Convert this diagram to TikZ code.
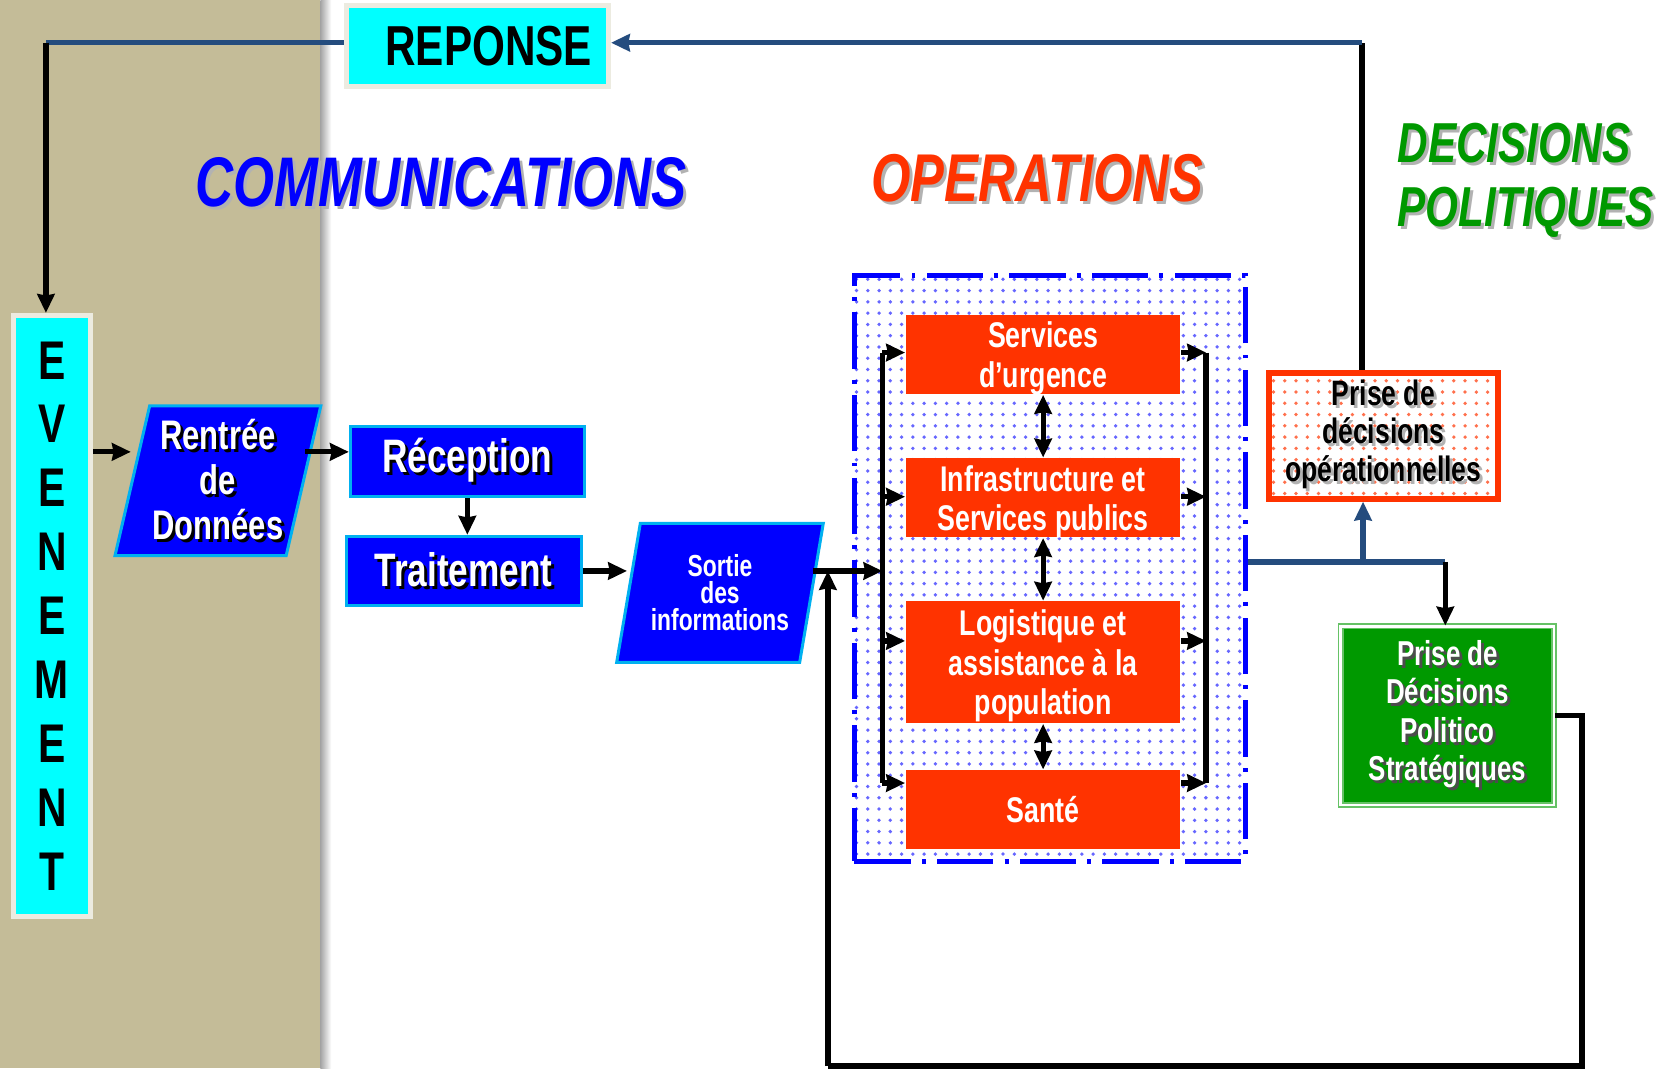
\documentclass[tikz,border=0pt]{standalone}
\usepackage{fontspec}
\newfontfamily\nar{Liberation Sans}[FakeStretch=0.75]
\usepackage{tikz}
\usetikzlibrary{patterns,shapes.geometric,arrows.meta}
\definecolor{tan1}{RGB}{196,188,152}
\definecolor{cyan1}{RGB}{0,255,255}
\definecolor{frame1}{RGB}{236,235,224}
\definecolor{blue1}{RGB}{0,0,255}
\definecolor{sky1}{RGB}{0,176,240}
\definecolor{orange1}{RGB}{255,51,0}
\definecolor{green1}{RGB}{0,153,0}
\definecolor{dblue}{RGB}{36,76,126}
% text with a drop shadow
\newcommand\shd[2]{\leavevmode\rlap{\kern0.8pt\raisebox{-0.8pt}{\color{#1}#2}}#2}

\begin{document}
\begin{tikzpicture}[x=0.01cm, y=-0.01cm,
	wire/.style={line width=1.4pt},
	arr/.style={wire, -{Stealth[length=5pt, width=4.6pt, inset=0.4pt]}},
	arrs/.style={wire, {Stealth[length=5pt, width=4.6pt, inset=0.4pt]}-{Stealth[length=5pt, width=4.6pt, inset=0.4pt]}},
	dwire/.style={wire, draw=dblue},
	cyanbox/.style={rectangle, fill=cyan1, draw=frame1, line width=1.4pt, inner sep=0, align=center},
	bluebox/.style={rectangle, fill=blue1, draw=sky1, line width=0.8pt, text=white, inner sep=0, font=\nar\bfseries\fontsize{12.5}{14}\selectfont},
	slant/.style={trapezium, trapezium left angle=75, trapezium right angle=105, trapezium stretches=true, fill=blue1, draw=sky1, line width=0.8pt, text=white, inner sep=0, align=center},
	opbox/.style={rectangle, fill=orange1, text=white, inner sep=0, minimum width=2.57cm, align=center, text depth=0pt, font=\nar\bfseries\fontsize{9.5}{10.5}\selectfont},
	title/.style={font=\nar\bfseries\itshape\fontsize{18.7}{17}\selectfont}]
	% Background:
	\fill[white] (0,0) rectangle (1568,1000);
	\fill[tan1] (0,0) rectangle (300,1000);
	\shade[left color=black!35, right color=white] (300,0) rectangle (310,1000);
	\useasboundingbox (0,0) rectangle (1568,1000);

	% Titles:
	\node[title, text=blue1] (T1) at (413,172) {\shd{black!30}{COMMUNICATIONS}};
	\node[title, text=orange1, font=\nar\bfseries\itshape\fontsize{18}{17}\selectfont] (T2) at (971,168) {\shd{black!30}{OPERATIONS}};
	\node[title, text=green1, anchor=west, align=left, font=\nar\bfseries\itshape\fontsize{15}{17}\selectfont] (T3) at (1296,170) {\shd{black!30}{DECISIONS}\\\shd{black!30}{POLITIQUES}};

	% Nodes:
	\node[cyanbox, minimum width=2.45cm, minimum height=0.76cm, font=\nar\bfseries\fontsize{15}{17}\selectfont] (Rep) at (447,43) {\hspace{6pt}REPONSE};
	\node[cyanbox, minimum width=0.72cm, minimum height=5.62cm, font=\nar\bfseries\fontsize{14.5}{17}\selectfont] (Ev) at (48.5,576.5) {E\\V\\E\\N\\E\\M\\E\\N\\T};
	\node[slant, minimum width=1.93cm, minimum height=1.4cm, font=\nar\bfseries\fontsize{11}{12}\selectfont] (Par1) at (204,450) {\shd{black}{Rentrée}\\\shd{black}{de}\\\shd{black}{Données}};
	\node[bluebox, minimum width=2.19cm, minimum height=0.66cm] (Rec) at (437.5,432) {\shd{black}{Réception}};
	\node[bluebox, minimum width=2.2cm, minimum height=0.65cm] (Trt) at (434,534.5) {\shd{black}{Traitement}};
	\node[slant, minimum width=1.94cm, minimum height=1.3cm, font=\nar\bfseries\fontsize{8.1}{7.2}\selectfont] (Par2) at (674,555) {Sortie\\des\\informations};

	\node[draw=blue1, line width=1.3pt, dash pattern=on 15pt off 3pt on 1pt off 3pt, pattern=dots, pattern color=blue1!60, minimum width=3.66cm, minimum height=5.48cm] (Cont) at (983,532) {};
	\node[opbox, minimum height=0.74cm] (Op1) at (976.5,332) {Services\\d’urgence};
	\node[opbox, minimum height=0.74cm] (Op2) at (976.5,466) {Infrastructure et\\Services publics};
	\node[opbox, minimum height=1.14cm] (Op3) at (976.5,620) {Logistique et\\assistance à la\\population};
	\node[opbox, minimum height=0.74cm] (Op4) at (976.5,758) {Santé};

	\node[draw=orange1, line width=1.5pt, pattern=dots, pattern color=orange1!70, minimum width=2.14cm, minimum height=1.18cm, inner sep=0, align=center, font=\nar\bfseries\fontsize{9.4}{10.2}\selectfont] (Dec1) at (1295,408) {\shd{black!30}{Prise de}\\\shd{black!30}{décisions}\\\shd{black!30}{opérationnelles}};
	\node[fill=green1, draw=green1!60!white, double=white, double distance=0.6pt, line width=0.5pt, minimum width=2cm, minimum height=1.67cm, inner sep=0, text=white, align=center, font=\nar\bfseries\fontsize{9.2}{10.2}\selectfont] (Dec2) at (1355,670) {\shd{black!70}{Prise de}\\\shd{black!70}{Décisions}\\\shd{black!70}{Politico}\\\shd{black!70}{Stratégiques}};

	% Paths and wires:
	\coordinate (E1) at (43,40);
	\draw[dwire] (Rep.west |- E1) -- (E1);
	\draw[arr] (E1) -- (E1 |- Ev.north);
	\coordinate (A1) at (87,423);
	\draw[arr] (Ev.east |- A1) -- (A1 -| Par1.west);
	\draw[arr] (A1 -| Par1.east) -- (A1 -| Rec.west);
	\draw[arr] (Rec.south) -- (Rec.south |- Trt.north);
	\draw[arr] (Trt.east) -- (Trt.east -| Par2.west);

	\coordinate (L1) at (826,330);
	\coordinate (L2) at (826,465);
	\coordinate (L3) at (826,600);
	\coordinate (L4) at (826,733);
	\coordinate (R1) at (1129,330);
	\coordinate (R2) at (1129,465);
	\coordinate (R3) at (1129,600);
	\coordinate (R4) at (1129,733);
	\draw[arr] (Par2.east |- Trt.east) -- (L1 |- Trt.east);
	\draw[wire] (L1) -- (L4);
	\draw[wire] (R1) -- (R4);
	\draw[arr] (L1) -- (L1 -| Op1.west);
	\draw[arr] (L2) -- (L2 -| Op2.west);
	\draw[arr] (L3) -- (L3 -| Op3.west);
	\draw[arr] (L4) -- (L4 -| Op4.west);
	\draw[arr] (R1 -| Op1.east) -- (R1);
	\draw[arr] (R2 -| Op2.east) -- (R2);
	\draw[arr] (R3 -| Op3.east) -- (R3);
	\draw[arr] (R4 -| Op4.east) -- (R4);
	\draw[arrs] (Op1.south) -- (Op2.north);
	\draw[arrs] (Op2.south) -- (Op3.north);
	\draw[arrs] (Op3.south) -- (Op4.north);

	\coordinate (D1) at (1353,526);
	\coordinate (D2) at (1276,526);
	\coordinate (D3) at (1275,40);
	\draw[dwire] (D1 -| Cont.east) -- (D1);
	\draw[dwire, arr] (D2) -- (D2 |- Dec1.south);
	\draw[arr] (D1) -- (D1 |- Dec2.north);
	\draw[wire] (D3 |- Dec1.north) -- (D3);
	\draw[dwire, arr] (D3) -- (D3 -| Rep.east);

	\coordinate (C1) at (1481,998);
	\coordinate (C2) at (775,998);
	\draw[wire] (Dec2.east) -| (C1) -- (C2);
	\draw[arr] (C2) -- (C2 |- Trt.east);
\end{tikzpicture}
\end{document}
